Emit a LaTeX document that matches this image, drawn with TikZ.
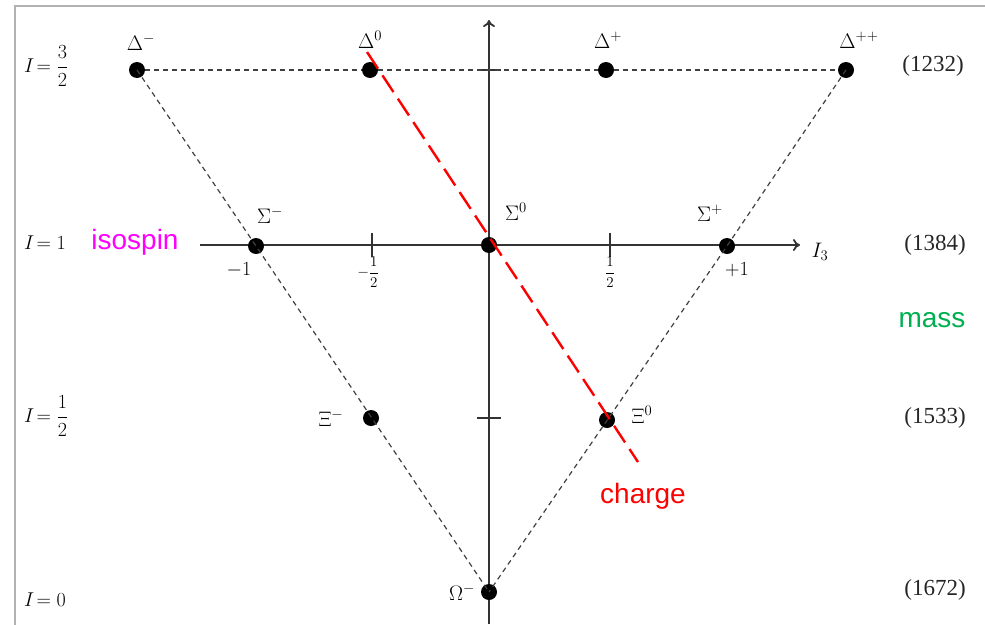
\RequirePackage{fix-cm}
\documentclass[tikz,border=0pt]{standalone}
\usepackage{fontspec}
\newfontfamily\sansf{Liberation Sans}
\newfontfamily\seriff{Liberation Serif}
\usetikzlibrary{arrows.meta}
\definecolor{massgreen}{HTML}{00B050}
\definecolor{isomag}{HTML}{FF00FF}
\definecolor{chgred}{HTML}{FF0000}
\definecolor{axisgray}{HTML}{333333}
\newcommand{\bigfr}[2]{{\displaystyle\frac{#1}{#2}}}
\begin{document}
\begin{tikzpicture}[x=1pt,y=-1pt,
  dot/.style={circle,fill=black,inner sep=0pt,minimum size=16pt},
  lbl/.style={inner sep=0pt,font=\fontsize{21}{23}\selectfont},
  sidelbl/.style={inner sep=0pt,font=\fontsize{20}{22}\selectfont},
  masslbl/.style={inner sep=0pt,font=\seriff\fontsize{23}{25}\selectfont,text=black!85},
  ticklbl/.style={inner sep=0pt,font=\fontsize{20}{22}\selectfont},
  fraclbl/.style={inner sep=0pt,font=\fontsize{15}{17}\selectfont},
  axisline/.style={line width=1.8pt,draw=axisgray},
  tri/.style={dash pattern=on 5pt off 4pt,line width=1.2pt,draw=black!75},
  redline/.style={draw=chgred,line width=2.4pt,dash pattern=on 20pt off 8pt},
  word/.style={inner sep=0pt,font=\sansf\fontsize{28}{30}\selectfont}]
\useasboundingbox (0,0) rectangle (985,624);
% frame
\draw[black!30,line width=2pt] (15,625) -- (15,6) -- (985,6);
% axes
\coordinate (xs) at (200,245);
\coordinate (xe) at (800,245);
\coordinate (ys) at (489,624);
\coordinate (ye) at (489,20);
\draw[axisline,-{To[length=7pt,width=12pt]}] (xs) -- (xe);
\draw[axisline,-{To[length=7pt,width=12pt]}] (ys) -- (ye);
% ticks
\foreach \x/\n in {372/tl,610/tr} {
  \coordinate (\n a) at (\x,233); \coordinate (\n b) at (\x,257);
  \draw[axisline] (\n a) -- (\n b);
}
\foreach \y/\n in {70/tt,418/tm} {
  \coordinate (\n a) at (477,\y); \coordinate (\n b) at (501,\y);
  \draw[axisline] (\n a) -- (\n b);
}
% particle dots
\node[dot] (dm) at (137,70) {};
\node[dot] (d0) at (370,70) {};
\node[dot] (dp) at (606,70) {};
\node[dot] (dpp) at (846,70) {};
\node[dot] (sm) at (256,246) {};
\node[dot] (s0) at (489,245) {};
\node[dot] (sp) at (727,246) {};
\node[dot] (xm) at (371,418) {};
\node[dot] (x0) at (607,420) {};
\node[dot] (om) at (489,592) {};
% dashed triangle
\draw[tri] (dm) -- (d0) -- (dp) -- (dpp);
\draw[tri] (dm.center) -- (sm.center) -- (om.center);
\draw[tri] (dpp.center) -- (sp.center) -- (om.center);
% red charge line
\coordinate (rs) at (367,52);
\coordinate (re) at (638,462);
\draw[redline] (rs) -- (re);
% particle labels
\node[lbl] (ldm) at (141,42) {$\Delta^{-}$};
\node[lbl] (ld0) at (370,40) {$\Delta^{0}$};
\node[lbl] (ldp) at (608,40) {$\Delta^{+}$};
\node[lbl] (ldpp) at (859,40) {$\Delta^{++}$};
\node[lbl] (lsm) at (270,215) {$\Sigma^{-}$};
\node[lbl] (ls0) at (516,212) {$\Sigma^{0}$};
\node[lbl] (lsp) at (710,213) {$\Sigma^{+}$};
\node[lbl] (lxm) at (331,418) {$\Xi^{-}$};
\node[lbl] (lx0) at (642,415) {$\Xi^{0}$};
\node[lbl] (lom) at (462,592) {$\Omega^{-}$};
% axis tick labels
\node[ticklbl] (tm1) at (239,270) {$-1$};
\node[fraclbl] (tmh) at (368,272) {$-\bigfr{1}{2}$};
\node[fraclbl] (tph) at (610,272) {$\bigfr{1}{2}$};
\node[ticklbl] (tp1) at (737,270) {$+1$};
\node[lbl] (i3) at (820,252) {$I_3$};
% left isospin labels
\node[sidelbl,anchor=west] (i32) at (24,66) {$I\!=\bigfr{3}{2}$};
\node[sidelbl,anchor=west] (i1) at (24,243) {$I\!=1$};
\node[sidelbl,anchor=west] (i12) at (24,416) {$I\!=\bigfr{1}{2}$};
\node[sidelbl,anchor=west] (i0) at (24,600) {$I\!=0$};
% masses
\node[masslbl] (m1) at (933,66) {(1232)};
\node[masslbl] (m2) at (935,245) {(1384)};
\node[masslbl] (m3) at (935,418) {(1533)};
\node[masslbl] (m4) at (935,590) {(1672)};
% words
\node[word,text=isomag] (iso) at (135,242) {isospin};
\node[word,text=massgreen] (mass) at (932,320) {mass};
\node[word,text=chgred] (chg) at (643,496) {charge};
\end{tikzpicture}
\end{document}
